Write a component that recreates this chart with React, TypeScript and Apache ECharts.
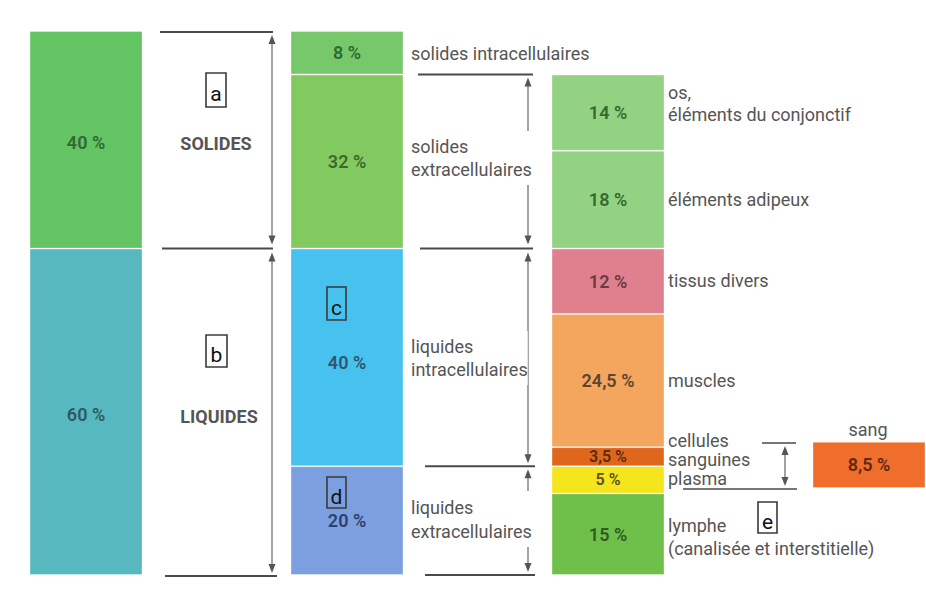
import React, { useEffect, useRef } from "react";
import * as echarts from "echarts";

// ---- data ----
const columns = ["corps", "composition", "tissus", "sang"];
const bodyValues = [40, 60]; // solides, liquides
const compValues = [8, 32, 40, 20]; // solides intra, solides extra, liquides intra, liquides extra
const tissueOffset = 8; // starts below the solides intracellulaires
const tissueValues = [14, 18, 12, 24.5, 3.5, 5, 15];
const bloodOffset = 75.5;
const bloodValues = [8.5];

// ---- styles ----
const bodyColors = ["#62c462", "#57b9bf"];
const compColors = ["#76c86a", "#82ca5f", "#47c2ef", "#7c9fe0"];
const tissueColors = ["#93d283", "#93d283", "#e0808f", "#f5a65e", "#e0661c", "#f5e51d", "#6fc04a"];
const bloodColors = ["#ef6e2c"];
const bodyLabelColors = ["#2f6a33", "#2f5a60"];
const compLabelColors = ["#2f6a2f", "#3a6a2a", "#2f5570", "#2c3f70"];
const tissueLabelColors = ["#356a30", "#356a30", "#6a3a45", "#5a4532", "#5a2a10", "#5a5020", "#2f5a20"];
const bloodLabelColors = ["#5a2a15"];

const FONT = 'Roboto, "Liberation Sans", Arial, sans-serif';
const GRAY = "#555";

const fmt = (v: number) => `${String(v).replace(".", ",")} %`;

export default function App() {
  const ref = useRef<HTMLDivElement>(null);
  useEffect(() => {
    if (!ref.current) return;
    const chart = echarts.init(ref.current, undefined, { renderer: "svg" });

    const cols = [
      { values: bodyValues, colors: bodyColors, lc: bodyLabelColors, offset: 0 },
      { values: compValues, colors: compColors, lc: compLabelColors, offset: 0 },
      { values: tissueValues, colors: tissueColors, lc: tissueLabelColors, offset: tissueOffset },
      { values: bloodValues, colors: bloodColors, lc: bloodLabelColors, offset: bloodOffset },
    ];
    const series: any[] = [];
    cols.forEach((c, ci) => {
      if (c.offset) {
        series.push({
          type: "bar",
          stack: "s",
          barWidth: 113,
          clip: false,
          silent: true,
          data: columns.map((_, i) => (i === ci ? c.offset : "-")),
          itemStyle: { color: "rgba(0,0,0,0)" },
          label: { show: false },
        });
      }
      c.values.forEach((v, si) => {
        const small = v < 6;
        series.push({
          type: "bar",
          stack: "s",
          barWidth: 113,
          clip: false,
          data: columns.map((_, i) => (i === ci ? v : "-")),
          itemStyle: { color: c.colors[si], borderColor: "rgba(255,255,255,0.35)", borderWidth: 1 },
          label: {
            show: true,
            position: "inside",
            formatter: fmt(v),
            color: c.lc[si],
            fontFamily: FONT,
            fontSize: small ? 16 : 18,
            fontWeight: 600,
            lineHeight: small ? 16 : 20,
            offset: ci === 1 && si === 2 ? [0, 5] : ci === 0 ? [0, 3] : [0, 0],
          },
        });
      });
    });

    chart.setOption({
      animation: false,
      backgroundColor: "#ffffff",
      grid: { left: 86, right: 57, top: 31, bottom: 15 },
      xAxis: { type: "category", data: columns, boundaryGap: false, show: false },
      yAxis: { type: "value", min: 0, max: 100, inverse: true, show: false },
      series,
    });

    const y = (v: number) => chart.convertToPixel({ yAxisIndex: 0 }, v) as number;

    const hLine = (x1: number, x2: number, yy: number, w = 2) => ({
      type: "line",
      z: 10,
      shape: { x1, y1: yy, x2, y2: yy },
      style: { stroke: "#4a4a4a", lineWidth: w },
    });
    const vArrow = (x: number, y1: number, y2: number) => [
      { type: "line", z: 10, shape: { x1: x, y1: y1 + 4, x2: x, y2: y2 - 4 }, style: { stroke: "#666", lineWidth: 1.2 } },
      { type: "polygon", z: 10, shape: { points: [[x, y1], [x - 3.5, y1 + 9], [x + 3.5, y1 + 9]] }, style: { fill: "#555" } },
      { type: "polygon", z: 10, shape: { points: [[x, y2], [x - 3.5, y2 - 9], [x + 3.5, y2 - 9]] }, style: { fill: "#555" } },
    ];
    const txt = (x: number, yy: number, text: string, extra: any = {}) => ({
      type: "text",
      z: 20,
      x,
      y: yy,
      style: {
        text,
        fill: GRAY,
        font: `18px ${FONT}`,
        verticalAlign: "middle",
        align: "left",
        ...extra,
      },
    });
    const letterBox = (x: number, yy: number, w: number, h: number, letter: string) => [
      { type: "rect", z: 30, shape: { x, y: yy, width: w, height: h }, style: { fill: "none", stroke: "#3a3a3a", lineWidth: 1.6 } },
      {
        type: "text",
        z: 31,
        x: x + w / 2,
        y: yy + h / 2 + 4,
        style: { text: letter, fill: "#111", font: `21px ${FONT}`, align: "center", verticalAlign: "middle" },
      },
    ];

    const elements: any[] = [
      // body / composition gap
      hLine(160, 273, y(0) + 1),
      hLine(162, 273, y(40)),
      hLine(165, 277, y(100) + 1),
      ...vArrow(272, y(0) + 4, y(40) - 4),
      ...vArrow(272, y(40) + 4, y(100) - 2),
      // composition / tissue gap
      hLine(418, 533, y(8)),
      hLine(420, 533, y(40)),
      hLine(425, 535, y(80)),
      hLine(425, 535, y(100)),
      ...vArrow(528, y(8) + 3, y(40) - 4),
      ...vArrow(528, y(40) + 4, y(80) - 3),
      ...vArrow(528, y(80) + 3, y(100) - 3),
      // blood cells / plasma bracket
      hLine(762, 796, 443, 1.5),
      hLine(683, 797, 489, 1.5),
      ...vArrow(785, 446, 486),
      // texts
      txt(216, 143, "SOLIDES", { font: `bold 18px ${FONT}`, align: "center", fill: "#555" }),
      txt(219, 416, "LIQUIDES", { font: `bold 18px ${FONT}`, align: "center", fill: "#555" }),
      txt(411, 53, "solides intracellulaires"),
      txt(411, 158, "solides\nextracellulaires", { lineHeight: 23, backgroundColor: "#fff", padding: [4, 0, 4, 0] }),
      txt(411, 358, "liquides\nintracellulaires", { lineHeight: 23, backgroundColor: "#fff", padding: [4, 0, 4, 0] }),
      txt(411, 519, "liquides\nextracellulaires", { lineHeight: 24, backgroundColor: "#fff", padding: [4, 0, 4, 0] }),
      txt(668, 92, "os,"),
      txt(668, 114, "éléments du conjonctif"),
      txt(668, 199, "éléments adipeux"),
      txt(668, 280, "tissus divers"),
      txt(668, 380, "muscles"),
      txt(668, 440, "cellules"),
      txt(668, 459, "sanguines"),
      txt(668, 478, "plasma"),
      txt(668, 525, "lymphe"),
      txt(668, 548, "(canalisée et interstitielle)"),
      txt(868, 429, "sang", { align: "center" }),
      // letter boxes
      ...letterBox(206, 73, 20, 34, "a"),
      ...letterBox(206, 335, 21, 32, "b"),
      ...letterBox(327, 287, 19, 33, "c"),
      ...letterBox(327, 477, 19, 31, "d"),
      ...letterBox(758, 502, 19, 31, "e"),
    ];

    chart.setOption({ graphic: { elements } });

    return () => chart.dispose();
  }, []);

  return (
    <div
      ref={ref}
      style={{ position: "absolute", left: 0, top: 0, width: 926, height: 590, background: "#fff" }}
    />
  );
}
